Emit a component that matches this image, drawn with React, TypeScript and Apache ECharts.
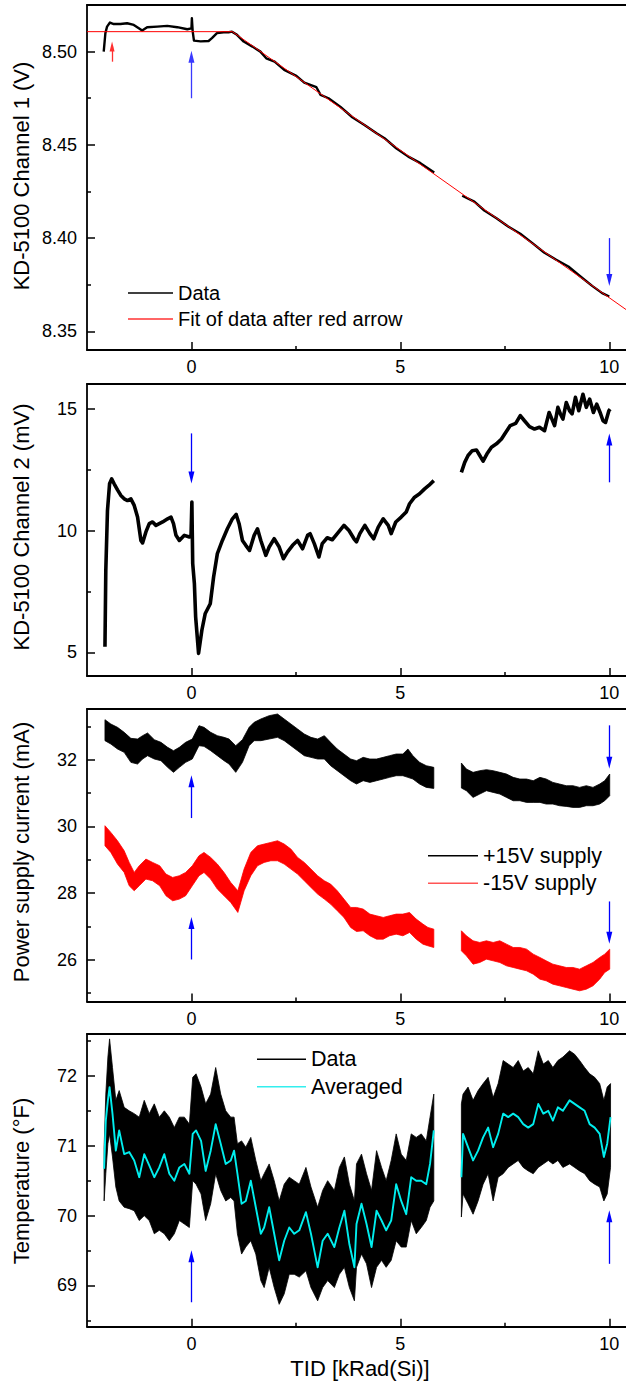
import React, { useEffect, useRef } from 'react';
import * as echarts from 'echarts';

const FONT = "Arial, 'Liberation Sans', Helvetica, sans-serif";

// ---------- shared x axis ----------
const X_MIN = -2.5;
const X_MAX = 10.4;
const xMajorTicks = [0, 5, 10];
const xMinorTicks = [2.5, 7.5];

// ---------- Panel 1: KD-5100 Channel 1 (V) ----------
const ch1X1 = [-2.10, -2.06, -2.02, -1.95, -1.86, -1.70, -1.54, -1.38, -1.26, -1.18, -1.06, -0.82, -0.58, -0.34, -0.10, 0.00, 0.01, 0.03, 0.06, 0.22, 0.41, 0.49, 0.61, 0.77, 0.89, 0.97, 1.09, 1.25, 1.46, 1.65, 1.79, 1.99, 2.22, 2.51, 2.70, 2.99, 3.09, 3.28, 3.56, 3.85, 4.14, 4.43, 4.62, 4.90, 5.19, 5.48, 5.81];
const ch1Y1 = [8.5000, 8.5099, 8.5134, 8.5156, 8.5148, 8.5148, 8.5152, 8.5143, 8.5125, 8.5113, 8.5131, 8.5134, 8.5138, 8.5131, 8.5120, 8.5125, 8.5179, 8.5107, 8.5059, 8.5055, 8.5057, 8.5072, 8.5099, 8.5104, 8.5104, 8.5107, 8.5090, 8.5054, 8.5027, 8.5000, 8.4964, 8.4946, 8.4902, 8.4870, 8.4834, 8.4809, 8.4768, 8.4750, 8.4705, 8.4648, 8.4607, 8.4562, 8.4536, 8.4482, 8.4437, 8.4402, 8.4352];
const ch1X2 = [6.48, 6.77, 7.01, 7.30, 7.58, 7.87, 8.16, 8.44, 8.73, 9.02, 9.31, 9.59, 9.83, 10.00];
const ch1Y2 = [8.4227, 8.4196, 8.4148, 8.4107, 8.4062, 8.4023, 8.3973, 8.3923, 8.3884, 8.3848, 8.3794, 8.3744, 8.3705, 8.3687];
const fitX = [-2.5, 0.98, 10.4];
const fitY = [8.5107, 8.5107, 8.3617];

// ---------- Panel 2: KD-5100 Channel 2 (mV) ----------
const ch2X1 = [-2.07, -2.05, -2.01, -1.96, -1.91, -1.85, -1.77, -1.69, -1.61, -1.53, -1.45, -1.37, -1.29, -1.21, -1.17, -1.09, -1.01, -0.93, -0.85, -0.77, -0.69, -0.57, -0.49, -0.43, -0.37, -0.29, -0.17, -0.05, -0.01, 0.01, 0.02, 0.03, 0.07, 0.10, 0.17, 0.25, 0.33, 0.45, 0.53, 0.62, 0.74, 0.86, 0.98, 1.07, 1.14, 1.22, 1.30, 1.39, 1.50, 1.58, 1.66, 1.78, 1.86, 1.98, 2.10, 2.20, 2.30, 2.42, 2.54, 2.66, 2.78, 2.84, 2.94, 3.05, 3.13, 3.25, 3.37, 3.49, 3.65, 3.77, 3.89, 3.95, 4.03, 4.15, 4.27, 4.36, 4.47, 4.59, 4.71, 4.78, 4.89, 5.02, 5.14, 5.22, 5.34, 5.46, 5.58, 5.68, 5.80];
const ch2Y1 = [5.23, 8.37, 10.83, 11.93, 12.13, 11.93, 11.68, 11.45, 11.31, 11.24, 11.31, 11.04, 10.56, 9.60, 9.50, 9.95, 10.29, 10.36, 10.22, 10.29, 10.36, 10.49, 10.56, 10.29, 9.81, 9.60, 9.81, 9.74, 9.81, 11.18, 9.90, 8.65, 7.83, 6.46, 4.96, 5.92, 6.60, 7.00, 8.10, 9.06, 9.60, 10.08, 10.49, 10.67, 10.29, 9.60, 9.40, 9.19, 9.81, 10.08, 9.60, 8.99, 9.33, 9.67, 9.33, 8.85, 9.13, 9.40, 9.60, 9.26, 9.81, 9.88, 9.47, 8.92, 9.47, 9.71, 9.63, 9.88, 10.22, 10.01, 9.67, 9.54, 9.88, 10.22, 9.88, 9.67, 10.15, 10.49, 10.22, 9.88, 10.36, 10.56, 10.77, 11.11, 11.38, 11.52, 11.72, 11.86, 12.06];
const ch2X2 = [6.46, 6.54, 6.62, 6.72, 6.82, 6.90, 6.98, 7.07, 7.18, 7.30, 7.42, 7.52, 7.63, 7.76, 7.87, 7.97, 8.09, 8.21, 8.33, 8.45, 8.51, 8.56, 8.61, 8.69, 8.77, 8.83, 8.89, 8.97, 9.05, 9.11, 9.19, 9.27, 9.37, 9.45, 9.53, 9.62, 9.70, 9.78, 9.85, 9.91, 9.99, 10.02];
const ch2Y2 = [12.40, 12.81, 13.09, 13.29, 13.32, 13.09, 12.86, 13.15, 13.43, 13.57, 13.77, 14.04, 14.32, 14.41, 14.73, 14.52, 14.28, 14.18, 14.25, 14.11, 14.52, 14.86, 14.66, 14.32, 15.07, 14.80, 14.59, 15.27, 14.93, 14.80, 15.48, 14.93, 15.61, 15.07, 15.41, 14.86, 15.20, 14.86, 14.52, 14.45, 14.93, 15.00];

// ---------- Panel 3: Power supply current (mA), band envelopes ----------
const psX1 = [-2.07, -1.93, -1.77, -1.61, -1.45, -1.29, -1.17, -1.05, -0.89, -0.73, -0.57, -0.43, -0.29, -0.14, 0.02, 0.18, 0.30, 0.46, 0.62, 0.78, 0.90, 1.06, 1.22, 1.38, 1.50, 1.66, 1.86, 2.06, 2.22, 2.38, 2.54, 2.70, 2.86, 3.02, 3.18, 3.33, 3.49, 3.65, 3.81, 3.95, 4.11, 4.27, 4.43, 4.59, 4.74, 4.90, 5.06, 5.18, 5.30, 5.46, 5.62, 5.80];
const p15Top1 = [33.20, 33.07, 32.97, 32.82, 32.64, 32.62, 32.72, 32.80, 32.60, 32.52, 32.37, 32.27, 32.37, 32.52, 32.62, 33.02, 32.97, 32.82, 32.72, 32.67, 32.62, 32.42, 32.60, 32.97, 33.12, 33.22, 33.32, 33.37, 33.22, 33.07, 32.92, 32.77, 32.67, 32.62, 32.72, 32.52, 32.32, 32.17, 32.02, 31.97, 32.07, 32.02, 32.02, 32.07, 32.12, 32.17, 32.17, 32.32, 32.12, 31.92, 31.82, 31.77];
const p15Bot1 = [32.57, 32.47, 32.32, 32.22, 31.92, 31.87, 32.02, 32.12, 32.02, 31.97, 31.77, 31.62, 31.77, 31.92, 32.02, 32.42, 32.40, 32.27, 32.12, 31.97, 31.87, 31.62, 31.92, 32.42, 32.57, 32.57, 32.62, 32.67, 32.57, 32.42, 32.27, 32.12, 32.07, 32.02, 32.02, 31.82, 31.67, 31.52, 31.37, 31.27, 31.37, 31.32, 31.37, 31.42, 31.47, 31.52, 31.52, 31.47, 31.42, 31.27, 31.17, 31.14];
const msX1 = [-2.07, -1.93, -1.77, -1.61, -1.49, -1.37, -1.25, -1.09, -0.93, -0.76, -0.61, -0.45, -0.29, -0.14, 0.02, 0.18, 0.30, 0.46, 0.62, 0.78, 0.94, 1.11, 1.26, 1.42, 1.58, 1.74, 1.90, 2.06, 2.22, 2.38, 2.54, 2.70, 2.86, 3.02, 3.18, 3.33, 3.49, 3.65, 3.81, 3.95, 4.11, 4.27, 4.43, 4.59, 4.74, 4.90, 5.06, 5.22, 5.38, 5.54, 5.66, 5.80];
const m15Top1 = [30.02, 29.82, 29.57, 29.27, 28.92, 28.62, 28.82, 29.02, 28.92, 28.82, 28.57, 28.47, 28.52, 28.62, 28.82, 29.12, 29.22, 29.07, 28.87, 28.62, 28.32, 28.07, 28.72, 29.22, 29.42, 29.47, 29.52, 29.57, 29.47, 29.32, 29.07, 28.92, 28.72, 28.52, 28.37, 28.27, 28.07, 27.82, 27.57, 27.57, 27.52, 27.37, 27.32, 27.27, 27.32, 27.37, 27.37, 27.42, 27.22, 27.07, 26.97, 26.92];
const m15Bot1 = [29.42, 29.22, 28.87, 28.62, 28.22, 28.07, 28.22, 28.42, 28.37, 28.22, 27.92, 27.77, 27.82, 27.92, 28.22, 28.52, 28.62, 28.42, 28.12, 27.92, 27.72, 27.42, 28.07, 28.52, 28.82, 28.92, 28.97, 28.97, 28.87, 28.72, 28.57, 28.37, 28.17, 27.97, 27.82, 27.67, 27.47, 27.27, 26.97, 26.85, 26.87, 26.72, 26.62, 26.62, 26.72, 26.77, 26.72, 26.82, 26.62, 26.47, 26.42, 26.37];
const psX2 = [6.46, 6.58, 6.74, 6.90, 7.06, 7.22, 7.38, 7.54, 7.70, 7.86, 8.02, 8.18, 8.34, 8.49, 8.65, 8.81, 8.97, 9.13, 9.29, 9.45, 9.61, 9.77, 9.89, 10.01];
const p15Top2 = [31.90, 31.72, 31.62, 31.67, 31.70, 31.67, 31.62, 31.57, 31.47, 31.42, 31.42, 31.37, 31.47, 31.42, 31.32, 31.27, 31.22, 31.22, 31.17, 31.22, 31.17, 31.27, 31.37, 31.57];
const p15Bot2 = [31.15, 31.07, 30.87, 30.97, 31.07, 31.02, 30.97, 30.87, 30.77, 30.77, 30.72, 30.72, 30.72, 30.67, 30.67, 30.62, 30.60, 30.57, 30.57, 30.62, 30.62, 30.67, 30.77, 30.92];
const m15Top2 = [26.87, 26.72, 26.57, 26.52, 26.57, 26.52, 26.57, 26.47, 26.37, 26.37, 26.32, 26.17, 26.07, 25.97, 25.87, 25.82, 25.77, 25.77, 25.72, 25.82, 25.92, 26.07, 26.17, 26.32];
const m15Bot2 = [26.27, 26.12, 25.87, 25.92, 26.02, 25.97, 25.92, 25.82, 25.77, 25.72, 25.67, 25.57, 25.42, 25.37, 25.27, 25.22, 25.17, 25.12, 25.07, 25.12, 25.22, 25.42, 25.62, 25.72];

// ---------- Panel 4: Temperature (°F) ----------
const tX1 = [-2.09, -2.05, -2.00, -1.96, -1.89, -1.81, -1.73, -1.61, -1.49, -1.37, -1.25, -1.13, -1.01, -0.89, -0.77, -0.65, -0.53, -0.41, -0.29, -0.17, -0.05, 0.03, 0.11, 0.23, 0.34, 0.46, 0.58, 0.70, 0.82, 0.94, 1.02, 1.10, 1.20, 1.30, 1.42, 1.54, 1.66, 1.74, 1.86, 1.98, 2.10, 2.22, 2.34, 2.46, 2.58, 2.74, 2.86, 3.02, 3.14, 3.26, 3.42, 3.54, 3.66, 3.78, 3.90, 3.95, 4.07, 4.19, 4.31, 4.43, 4.55, 4.66, 4.78, 4.90, 5.02, 5.14, 5.26, 5.38, 5.50, 5.62, 5.71, 5.80];
const tAvg1 = [70.67, 71.36, 71.65, 71.84, 71.46, 70.93, 71.22, 70.88, 70.91, 70.79, 70.55, 70.88, 70.72, 70.55, 70.69, 70.88, 70.60, 70.50, 70.69, 70.74, 70.60, 71.17, 71.22, 71.07, 70.64, 70.93, 71.31, 71.03, 70.74, 70.79, 70.93, 70.60, 70.17, 70.21, 70.50, 70.12, 69.74, 69.83, 70.12, 69.74, 69.36, 69.64, 69.83, 69.74, 69.79, 70.05, 69.74, 69.26, 69.64, 69.74, 69.55, 69.83, 70.07, 69.59, 69.26, 69.88, 70.17, 69.88, 69.55, 70.07, 69.93, 69.79, 69.93, 70.45, 70.21, 70.02, 70.55, 70.50, 70.50, 70.45, 70.74, 71.22];
const tTop1 = [70.98, 71.74, 72.27, 72.53, 72.12, 71.65, 71.79, 71.55, 71.50, 71.46, 71.41, 71.65, 71.46, 71.60, 71.41, 71.50, 71.41, 71.26, 71.41, 71.41, 71.31, 71.98, 72.03, 71.84, 71.60, 71.74, 72.12, 71.74, 71.50, 71.41, 71.41, 71.03, 71.07, 70.98, 71.12, 70.79, 70.50, 70.60, 70.74, 70.50, 70.21, 70.45, 70.55, 70.50, 70.45, 70.69, 70.41, 70.12, 70.36, 70.50, 70.36, 70.69, 70.84, 70.45, 70.21, 70.74, 70.88, 70.60, 70.36, 70.93, 70.69, 70.50, 70.79, 71.17, 70.88, 70.79, 71.17, 71.12, 71.17, 71.07, 71.41, 71.74];
const tBot1 = [70.21, 70.60, 71.03, 71.17, 70.84, 70.41, 70.21, 70.12, 70.10, 70.07, 69.93, 70.00, 69.93, 69.74, 69.79, 69.74, 69.64, 69.74, 69.93, 69.88, 69.83, 70.50, 70.45, 70.31, 69.93, 70.17, 70.60, 70.36, 70.21, 70.26, 70.21, 69.74, 69.45, 69.55, 69.64, 69.45, 69.07, 68.97, 69.26, 68.97, 68.73, 68.88, 69.16, 69.16, 69.12, 69.21, 68.97, 68.78, 68.97, 69.07, 68.97, 69.16, 69.26, 68.97, 68.78, 69.26, 69.45, 69.31, 68.97, 69.26, 69.36, 69.26, 69.36, 69.64, 69.55, 69.55, 69.93, 69.74, 69.83, 69.93, 70.12, 70.21];
const tX2 = [6.46, 6.50, 6.62, 6.74, 6.86, 6.98, 7.10, 7.22, 7.34, 7.46, 7.58, 7.70, 7.82, 7.94, 8.06, 8.18, 8.30, 8.42, 8.54, 8.65, 8.77, 8.89, 9.05, 9.17, 9.29, 9.41, 9.53, 9.65, 9.77, 9.87, 9.95, 10.03];
const tAvg2 = [70.55, 71.17, 70.98, 70.79, 70.93, 71.12, 71.26, 70.98, 71.17, 71.46, 71.41, 71.46, 71.41, 71.31, 71.26, 71.31, 71.60, 71.46, 71.50, 71.36, 71.55, 71.50, 71.65, 71.60, 71.55, 71.50, 71.31, 71.26, 71.17, 70.84, 71.03, 71.41];
const tTop2 = [71.60, 71.74, 71.84, 71.65, 71.79, 71.89, 71.98, 71.69, 71.89, 72.22, 72.17, 72.12, 72.22, 72.07, 72.12, 72.03, 72.36, 72.17, 72.22, 72.12, 72.22, 72.27, 72.36, 72.31, 72.22, 72.12, 72.03, 71.98, 71.89, 71.65, 71.84, 71.89];
const tBot2 = [69.98, 70.31, 70.17, 70.02, 70.21, 70.45, 70.60, 70.21, 70.55, 70.60, 70.69, 70.74, 70.79, 70.69, 70.64, 70.60, 70.69, 70.74, 70.79, 70.74, 70.79, 70.69, 70.74, 70.69, 70.64, 70.60, 70.50, 70.45, 70.41, 70.21, 70.31, 70.69];

// ---------- arrows (x, tail value, head value) ----------
const arrows1 = [
  { x: -1.9, from: 8.4946, to: 8.5027, color: '#ff3030', size: [5, 10] },
  { x: 0, from: 8.475, to: 8.4973, color: '#3a3aff', size: [6, 12] },
  { x: 10, from: 8.40, to: 8.3776, color: '#2020ff', size: [6, 12] },
];
const arrows2 = [
  { x: 0, from: 14.0, to: 12.19, color: '#0000ff', size: [6, 12] },
  { x: 10, from: 11.99, to: 13.75, color: '#0000ff', size: [6, 12] },
];
const arrows3 = [
  { x: 0, from: 30.25, to: 31.35, color: '#0000ff', size: [6, 12] },
  { x: 0, from: 26.01, to: 27.10, color: '#0000ff', size: [6, 12] },
  { x: 10, from: 33.03, to: 31.91, color: '#0000ff', size: [6, 12] },
  { x: 10, from: 27.75, to: 26.66, color: '#0000ff', size: [6, 12] },
];
const arrows4 = [
  { x: 0, from: 68.76, to: 69.42, color: '#0000ff', size: [6, 12] },
  { x: 10, from: 69.31, to: 69.99, color: '#0000ff', size: [6, 12] },
];

// ---------- panel axes ----------
const panels = [
  { top: 5, height: 345, yMin: 8.34, yMax: 8.525, yLabels: [8.35, 8.40, 8.45, 8.50], yMinor: [8.375, 8.425, 8.475], digits: 2, title: 'KD-5100 Channel 1 (V)', titleY: 176 },
  { top: 384, height: 292, yMin: 4.03, yMax: 16.03, yLabels: [5, 10, 15], yMinor: [7.5, 12.5], digits: 0, title: 'KD-5100 Channel 2 (mV)', titleY: 527 },
  { top: 709, height: 292.5, yMin: 24.75, yMax: 33.52, yLabels: [26, 28, 30, 32], yMinor: [25, 27, 29, 31, 33], digits: 0, title: 'Power supply current (mA)', titleY: 852 },
  { top: 1034, height: 292.7, yMin: 68.41, yMax: 72.6, yLabels: [69, 70, 71, 72], yMinor: [68.5, 69.5, 70.5, 71.5, 72.5], digits: 0, title: 'Temperature (°F)', titleY: 1181 },
];

const zip = (xs: number[], ys: number[]) => xs.map((x, i) => [x, ys[i]]);

function lineSeries(name: string, xs: number[], ys: number[], color: string, width: number, p: number, z = 3) {
  return {
    type: 'line', name, xAxisIndex: p * 3, yAxisIndex: p * 2,
    data: zip(xs, ys), symbol: 'none', showSymbol: false, silent: true, z,
    lineStyle: { color, width, join: 'round' }, itemStyle: { color },
  };
}

function bandSeries(name: string, segs: { x: number[]; top: number[]; bot: number[] }[], color: string, p: number) {
  return {
    type: 'custom', name, xAxisIndex: p * 3, yAxisIndex: p * 2, silent: true, z: 2,
    itemStyle: { color },
    data: segs.map((s) => [s.x[0], s.top[0]]),
    encode: { x: 0, y: 1 },
    renderItem: (params: any, api: any) => {
      const s = segs[params.dataIndex];
      const points: number[][] = [];
      for (let i = 0; i < s.x.length; i++) points.push(api.coord([s.x[i], s.top[i]]));
      for (let i = s.x.length - 1; i >= 0; i--) points.push(api.coord([s.x[i], s.bot[i]]));
      return { type: 'polygon', shape: { points }, style: { fill: color, stroke: color, lineWidth: 0.8 } };
    },
  };
}

function arrowSeries(arr: any[], p: number) {
  return {
    type: 'line', xAxisIndex: p * 3, yAxisIndex: p * 2, data: [], silent: true, z: 5,
    markLine: {
      silent: true, animation: false,
      symbol: ['none', 'triangle'],
      label: { show: false },
      lineStyle: { type: 'solid', width: 1.3, color: '#0000ff' },
      emphasis: { disabled: true },
      data: arr.map((a) => [
        { coord: [a.x, a.from], lineStyle: { color: a.color, width: 1.3, type: 'solid' }, itemStyle: { color: a.color }, symbol: 'none' },
        { coord: [a.x, a.to], symbol: 'triangle', symbolSize: a.size, itemStyle: { color: a.color } },
      ]),
    },
  };
}

function buildOption() {
  const grid: any[] = [];
  const xAxis: any[] = [];
  const yAxis: any[] = [];
  const graphic: any[] = [];
  const axisLineStyle = { color: '#000', width: 1.8 };
  const tickStyle = { color: '#000', width: 1.5 };
  const labelStyle = { color: '#000', fontSize: 18, fontFamily: FONT };

  panels.forEach((pn, i) => {
    grid.push({ left: 87, right: 0, top: pn.top, height: pn.height, containLabel: false });
    xAxis.push({
      gridIndex: i, type: 'value', min: X_MIN, max: X_MAX, position: 'bottom',
      axisLine: { show: true, onZero: false, lineStyle: axisLineStyle },
      axisTick: { show: true, inside: true, length: 8, customValues: xMajorTicks, lineStyle: tickStyle },
      axisLabel: { show: true, customValues: xMajorTicks, margin: 8, ...labelStyle, formatter: (v: number) => String(v) },
      splitLine: { show: false },
    });
    xAxis.push({
      gridIndex: i, type: 'value', min: X_MIN, max: X_MAX, position: 'bottom',
      axisLine: { show: false, onZero: false },
      axisTick: { show: true, inside: true, length: 4, customValues: xMinorTicks, lineStyle: tickStyle },
      axisLabel: { show: false }, splitLine: { show: false },
    });
    xAxis.push({
      gridIndex: i, type: 'value', min: X_MIN, max: X_MAX, position: 'top',
      axisLine: { show: true, onZero: false, lineStyle: axisLineStyle },
      axisTick: { show: false }, axisLabel: { show: false }, splitLine: { show: false },
    });
    yAxis.push({
      gridIndex: i, type: 'value', min: pn.yMin, max: pn.yMax, position: 'left',
      axisLine: { show: true, onZero: false, lineStyle: axisLineStyle },
      axisTick: { show: true, inside: true, length: 8, customValues: pn.yLabels, lineStyle: tickStyle },
      axisLabel: { show: true, customValues: pn.yLabels, margin: 10, ...labelStyle, formatter: (v: number) => v.toFixed(pn.digits) },
      splitLine: { show: false },
    });
    yAxis.push({
      gridIndex: i, type: 'value', min: pn.yMin, max: pn.yMax, position: 'left',
      axisLine: { show: false, onZero: false },
      axisTick: { show: true, inside: true, length: 4, customValues: pn.yMinor, lineStyle: tickStyle },
      axisLabel: { show: false }, splitLine: { show: false },
    });
    graphic.push({
      type: 'text', x: 21, y: pn.titleY, rotation: Math.PI / 2, silent: true,
      style: { text: pn.title, fontSize: 22, fontFamily: FONT, fill: '#000', align: 'center', verticalAlign: 'middle', textAlign: 'center', textVerticalAlign: 'middle' },
    });
  });
  graphic.push({
    type: 'text', x: 360, y: 1368, silent: true,
    style: { text: 'TID [kRad(Si)]', fontSize: 22, fontFamily: FONT, fill: '#000', align: 'center', verticalAlign: 'middle', textAlign: 'center', textVerticalAlign: 'middle' },
  });

  const series: any[] = [
    // panel 1
    lineSeries('Data', ch1X1, ch1Y1, '#000', 2.4, 0, 3),
    lineSeries('Data', ch1X2, ch1Y2, '#000', 2.4, 0, 3),
    lineSeries('Fit of data after red arrow', fitX, fitY, '#ff0000', 1, 0, 4),
    arrowSeries(arrows1, 0),
    // panel 2
    lineSeries('Channel 2', ch2X1, ch2Y1, '#000', 3.6, 1, 3),
    lineSeries('Channel 2', ch2X2, ch2Y2, '#000', 3.6, 1, 3),
    arrowSeries(arrows2, 1),
    // panel 3
    bandSeries('+15V supply', [{ x: psX1, top: p15Top1, bot: p15Bot1 }, { x: psX2, top: p15Top2, bot: p15Bot2 }], '#000000', 2),
    bandSeries('-15V supply', [{ x: msX1, top: m15Top1, bot: m15Bot1 }, { x: psX2, top: m15Top2, bot: m15Bot2 }], '#ff0000', 2),
    arrowSeries(arrows3, 2),
    // panel 4
    bandSeries('Temp data', [{ x: tX1, top: tTop1, bot: tBot1 }, { x: tX2, top: tTop2, bot: tBot2 }], '#000000', 3),
    lineSeries('Averaged', tX1, tAvg1, '#00eeee', 1.9, 3, 4),
    lineSeries('Averaged', tX2, tAvg2, '#00eeee', 1.9, 3, 4),
    arrowSeries(arrows4, 3),
  ];

  const legendBase = {
    orient: 'vertical', icon: 'rect', itemHeight: 1.5, selectedMode: false,
  };
  const legend = [
    {
      ...legendBase, left: 123, top: 276, itemWidth: 45, itemGap: 2,
      textStyle: { fontSize: 20, fontFamily: FONT, color: '#000', lineHeight: 24 },
      data: [
        { name: 'Data', itemStyle: { color: '#000' } },
        { name: 'Fit of data after red arrow', itemStyle: { color: '#ff3333' } },
      ],
    },
    {
      ...legendBase, left: 423, top: 838.7, itemWidth: 50, itemGap: 3.6,
      textStyle: { fontSize: 21.5, fontFamily: FONT, color: '#000', lineHeight: 24 },
      data: [
        { name: '+15V supply', itemStyle: { color: '#000' } },
        { name: '-15V supply', itemStyle: { color: '#ff5555' } },
      ],
    },
    {
      ...legendBase, left: 252, top: 1042.3, itemWidth: 49, itemGap: 3.4,
      textStyle: { fontSize: 21.5, fontFamily: FONT, color: '#000', lineHeight: 24 },
      formatter: (n: string) => (n === 'Temp data' ? 'Data' : n),
      data: [
        { name: 'Temp data', itemStyle: { color: '#000' } },
        { name: 'Averaged', itemStyle: { color: '#33eeee' } },
      ],
    },
  ];

  return {
    animation: false,
    backgroundColor: '#ffffff',
    textStyle: { fontFamily: FONT },
    grid, xAxis, yAxis, series, legend, graphic,
  };
}

export default function App() {
  const ref = useRef<HTMLDivElement>(null);
  useEffect(() => {
    if (!ref.current) return;
    const chart = echarts.init(ref.current, undefined, { renderer: 'svg' });
    chart.setOption(buildOption() as any);
    return () => chart.dispose();
  }, []);
  return (
    <div
      ref={ref}
      style={{ position: 'absolute', left: 0, top: 0, width: 626, height: 1382, background: '#fff' }}
    />
  );
}
